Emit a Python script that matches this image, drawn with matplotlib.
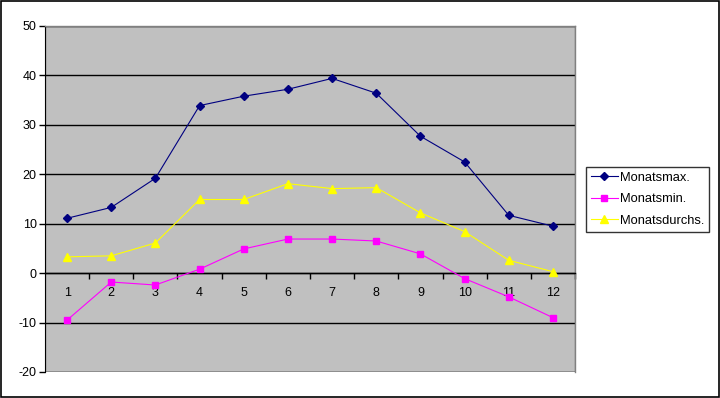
import matplotlib
matplotlib.use("Agg")
import matplotlib.pyplot as plt
from matplotlib.patches import Rectangle

plt.rcParams["font.family"] = ["Liberation Sans", "DejaVu Sans"]
plt.rcParams["axes.unicode_minus"] = False

MONTHS = list(range(1, 13))
MONATSMAX = [11.1, 13.3, 19.2, 33.9, 35.8, 37.2, 39.4, 36.4, 27.7, 22.5, 11.7, 9.5]
MONATSMIN = [-9.5, -1.8, -2.4, 0.8, 4.9, 6.9, 6.9, 6.5, 3.9, -1.1, -4.8, -9.0]
MONATSDURCHS = [3.3, 3.5, 6.1, 14.9, 14.9, 18.1, 17.1, 17.3, 12.2, 8.4, 2.6, 0.3]
Y_TICKS = [-20, -10, 0, 10, 20, 30, 40, 50]

fig = plt.figure(figsize=(7.2, 3.98), dpi=100)
ax = fig.add_axes([45 / 720, 1 - 372 / 398, 530 / 720, 346 / 398])
ax.set_facecolor("#c0c0c0")

# Outer frame of the chart object
fig.patches.append(Rectangle((0.001, 0.002), 0.997, 0.996, transform=fig.transFigure,
                             fill=False, edgecolor="black", linewidth=1.2))

lw = 0.8
ax.plot(MONTHS, MONATSMAX, color="#000080", lw=lw, marker="D", ms=4.5,
        mfc="#000080", mec="#000080", label="Monatsmax.", zorder=4)
ax.plot(MONTHS, MONATSMIN, color="#ff00ff", lw=lw, marker="s", ms=5,
        mfc="#ff00ff", mec="#ff00ff", label="Monatsmin.", zorder=4)
ax.plot(MONTHS, MONATSDURCHS, color="#ffff00", lw=lw, marker="^", ms=6,
        mfc="#ffff00", mec="#ffff00", label="Monatsdurchs.", zorder=4)

ax.set_xlim(0.5, 12.5)
ax.set_ylim(-20, 50)

# Horizontal gridlines
ax.set_yticks(Y_TICKS)
ax.yaxis.grid(True, color="black", linewidth=1.0)
ax.set_axisbelow(True)
ax.tick_params(axis="y", direction="out", length=4, width=1, color="black",
               labelsize=9, pad=2)

# Category axis crossing at zero, ticks between categories
ax.spines["bottom"].set_position(("data", 0))
ax.spines["bottom"].set_color("black")
ax.spines["bottom"].set_linewidth(1.0)
ax.set_xticks([m + 0.5 for m in MONTHS])
ax.set_xticklabels([])
ax.set_xticks(MONTHS, minor=True)
ax.set_xticklabels([str(m) for m in MONTHS], minor=True)
ax.tick_params(axis="x", which="major", direction="out", length=4, width=1, color="black")
ax.tick_params(axis="x", which="minor", length=0, labelsize=9, pad=10)

ax.spines["left"].set_color("black")
for side in ("top", "right"):
    ax.spines[side].set_color("#808080")
    ax.spines[side].set_linewidth(1.0)
# bottom border of plot area
ax.add_patch(Rectangle((0, 0), 1, 1, transform=ax.transAxes, fill=False,
                       edgecolor="#808080", linewidth=1.0, zorder=0.5))

leg = fig.legend(loc="upper left", bbox_to_anchor=(586 / 720, 1 - 167 / 398),
                 frameon=True, fancybox=False, shadow=False, fontsize=9.3,
                 handlelength=2.1, handletextpad=0.2, borderpad=0.35,
                 labelspacing=0.75, borderaxespad=0)
leg.get_frame().set_edgecolor("black")
leg.get_frame().set_linewidth(1.0)

fig.savefig("out.png", dpi=100, facecolor="white")
